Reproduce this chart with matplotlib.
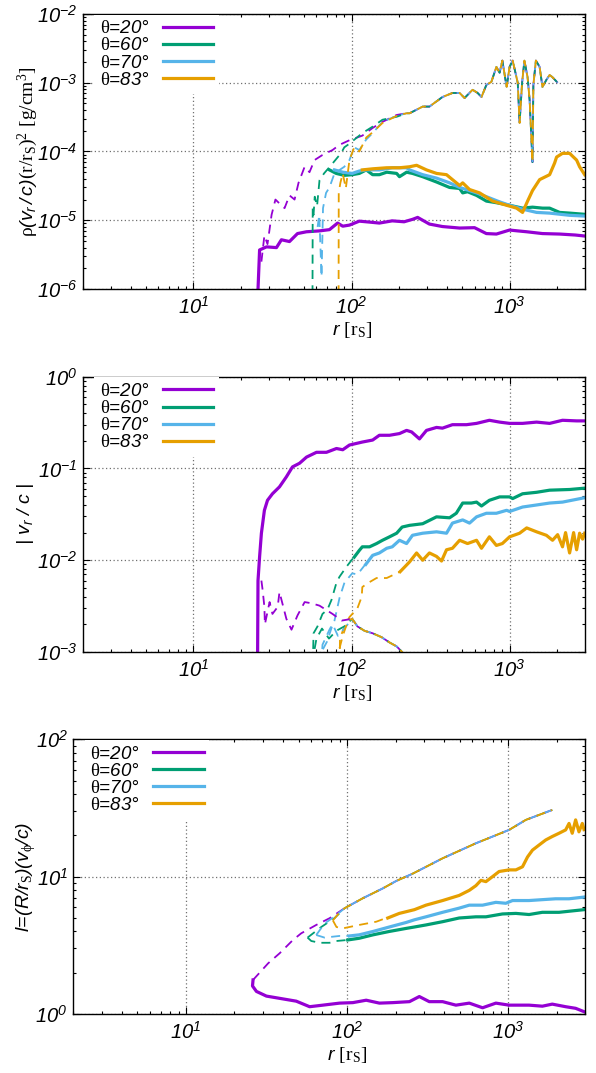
import numpy as np
import matplotlib
matplotlib.use('Agg')
import matplotlib.pyplot as plt
from matplotlib.ticker import LogLocator, FuncFormatter, NullFormatter

plt.rcParams['font.family'] = 'Liberation Sans'
plt.rcParams['mathtext.fontset'] = 'custom'
plt.rcParams['mathtext.rm'] = 'Liberation Sans:italic'
plt.rcParams['mathtext.it'] = 'Liberation Sans:italic'
plt.rcParams['mathtext.sf'] = 'Liberation Serif'

C20, C60, C70, C83 = '#9400d3', '#009e73', '#56b4e9', '#e69f00'
labels = [r'$\mathsf{\theta}$=20°', r'$\mathsf{\theta}$=60°',
          r'$\mathsf{\theta}$=70°', r'$\mathsf{\theta}$=83°']

# ---- top panel: rho (v_r/c) (r/r_S)^2, pairs of (r, value) ----
rho20 = [(25.3, 5e-7), (26.2, 3.7e-6), (29.0, 4.1e-6), (33.5, 4.0e-6), (36.0, 5.2e-6),
         (40.5, 4.9e-6), (45.5, 6.4e-6), (51.9, 6.8e-6), (62.7, 7.0e-6), (72.5, 7.3e-6),
         (81.6, 9.1e-6), (88, 8.2e-6), (97, 8.5e-6), (112, 9.7e-6), (130, 9.4e-6),
         (150, 9.1e-6), (181, 9.8e-6), (215, 9.5e-6), (243, 1.03e-5), (262, 1.1e-5),
         (311, 8.8e-6), (376, 8.1e-6), (483, 7.7e-6), (600, 7.8e-6), (713, 6.4e-6),
         (825, 6.3e-6), (1000, 7.2e-6), (1126, 7.0e-6), (1283, 6.8e-6), (1614, 6.4e-6),
         (2072, 6.3e-6), (2600, 6.1e-6), (2985, 5.9e-6)]
rho60 = [(72.5, 5.4e-5), (80, 4.8e-5), (90, 4.5e-5), (101, 4.6e-5), (112, 4.8e-5),
         (124, 5.4e-5), (136, 4.6e-5), (150, 4.6e-5), (167, 5.0e-5), (193, 4.8e-5),
         (201, 4.3e-5), (223, 5.0e-5), (243, 4.8e-5), (282, 4.3e-5), (345, 3.6e-5),
         (417, 3.0e-5), (483, 2.9e-5), (505, 2.5e-5), (542, 2.6e-5), (618, 2.3e-5),
         (713, 1.9e-5), (825, 1.8e-5), (1000, 1.65e-5), (1208, 1.5e-5), (1396, 1.55e-5),
         (1618, 1.5e-5), (1792, 1.5e-5), (2072, 1.3e-5), (2397, 1.27e-5), (2985, 1.22e-5)]
rho70 = [(78, 5.4e-5), (88, 5.0e-5), (101, 4.8e-5), (112, 5.2e-5), (124, 5.4e-5),
         (150, 5.4e-5), (181, 5.8e-5), (223, 5.8e-5), (233, 5.4e-5), (282, 4.6e-5),
         (345, 4.1e-5), (417, 3.5e-5), (483, 3.0e-5), (618, 2.5e-5), (713, 2.2e-5),
         (865, 1.85e-5), (1000, 1.65e-5), (1208, 1.45e-5), (1482, 1.3e-5), (1792, 1.27e-5),
         (2397, 1.18e-5), (2985, 1.15e-5)]
rho83 = [(117, 5.4e-5), (136, 5.6e-5), (167, 5.8e-5), (201, 5.8e-5), (233, 6.0e-5),
         (258, 6.3e-5), (298, 5.4e-5), (345, 4.8e-5), (399, 4.6e-5), (435, 3.9e-5),
         (483, 3.2e-5), (505, 3.5e-5), (558, 2.8e-5), (646, 2.5e-5), (780, 1.9e-5),
         (958, 1.65e-5), (1107, 1.5e-5), (1208, 1.3e-5), (1300, 1.9e-5), (1396, 2.7e-5),
         (1549, 3.9e-5), (1792, 4.6e-5), (1927, 6.8e-5), (1983, 8.3e-5), (2162, 9.4e-5),
         (2397, 9.4e-5), (2655, 7.5e-5), (2773, 6.0e-5), (2985, 4.6e-5)]
# inflow (dashed): individual heads, then a common tail
rho20_in = [(26.9, 2.5e-6), (28.1, 6e-6), (29.4, 4.5e-6), (31.2, 1.2e-5), (33.0, 2.0e-5),
            (35.5, 1.7e-5), (37.7, 1.5e-5), (40.5, 2.3e-5), (43.6, 2.0e-5), (46.2, 3.5e-5),
            (50.5, 6e-5), (54.2, 5e-5), (58.3, 7.5e-5), (65.5, 8.9e-5), (75.8, 1.05e-4),
            (83.9, 1.25e-4), (97.1, 1.46e-4), (117, 1.7e-4), (136, 2.2e-4), (157, 2.7e-4),
            (193, 3.4e-4)]
rho60_in = [(56.6, 5e-7), (56.8, 1.5e-5), (57.5, 1.2e-5), (58.5, 2.2e-5), (60.5, 1.6e-5),
            (62.7, 3.8e-5), (67, 4.8e-5), (75, 6.5e-5), (86, 9.5e-5), (90, 1.15e-4),
            (97, 1.3e-4), (117, 1.85e-4), (136, 2.3e-4), (157, 2.9e-4), (193, 3.2e-4)]
rho70_in = [(61, 8e-6), (62.5, 1.2e-5), (64.6, 1.5e-6), (66, 1.5e-5), (69, 2.5e-5),
            (72.5, 3.0e-5), (78, 4.8e-5), (90, 6.0e-5), (97, 7.5e-5), (104, 1.15e-4),
            (112, 1.05e-4), (124, 1.5e-4), (136, 1.85e-4), (157, 2.7e-4), (193, 3.3e-4)]
rho83_in = [(82.8, 5e-7), (83.0, 2.5e-5), (85, 3.5e-5), (88, 4.8e-5), (92, 2.9e-5),
            (97, 7.5e-5), (104, 1.15e-4), (112, 1.0e-4), (124, 1.6e-4), (136, 1.9e-4),
            (157, 2.6e-4), (193, 3.3e-4)]
rho_in_tail = [(223, 3.6e-4), (233, 3.6e-4), (282, 4.5e-4), (311, 4.5e-4), (376, 6.2e-4),
               (435, 7.1e-4), (483, 7.1e-4), (519, 6.0e-4), (583, 7.9e-4), (628, 7.1e-4),
               (664, 6.2e-4), (713, 9.3e-4), (767, 1.03e-3), (825, 1.7e-3), (865, 1.4e-3),
               (900, 2.1e-3), (958, 8.7e-4), (1000, 1.7e-3), (1046, 2.1e-3), (1126, 1.0e-3),
               (1157, 2.6e-4), (1200, 1.0e-3), (1241, 2.1e-3), (1300, 1.2e-3), (1339, 5.6e-4),
               (1396, 7e-5), (1414, 9.3e-4), (1467, 2.1e-3), (1549, 1.7e-3), (1614, 8.7e-4),
               (1709, 1.1e-3), (1792, 1.3e-3), (1870, 1.2e-3), (2014, 1.0e-3)]

# ---- middle panel: |v_r / c| ----
vr20 = [(25.4, 5e-4), (25.6, 6e-3), (26.2, 0.0109), (26.9, 0.0197), (28.1, 0.035),
        (29.4, 0.045), (31.6, 0.053), (35.0, 0.063), (38.7, 0.081), (42.3, 0.104),
        (46.9, 0.114), (51.9, 0.133), (60, 0.15), (69.4, 0.15), (80.3, 0.165), (88, 0.16),
        (97, 0.18), (117, 0.194), (136, 0.204), (150, 0.23), (174, 0.23), (201, 0.24),
        (223, 0.26), (240, 0.25), (269, 0.21), (298, 0.26), (345, 0.28), (376, 0.275),
        (435, 0.30), (534, 0.30), (618, 0.31), (745, 0.335), (865, 0.32), (1000, 0.31),
        (1208, 0.31), (1482, 0.32), (1792, 0.31), (2162, 0.335), (2655, 0.33), (2985, 0.33)]
vr60 = [(104, 0.0108), (112, 0.0128), (117, 0.014), (130, 0.014), (144, 0.0152),
        (157, 0.0165), (174, 0.018), (193, 0.0197), (209, 0.023), (233, 0.024), (282, 0.025),
        (345, 0.0297), (417, 0.029), (460, 0.0325), (505, 0.042), (573, 0.042), (618, 0.043),
        (664, 0.039), (745, 0.045), (865, 0.049), (1000, 0.049), (1046, 0.047),
        (1208, 0.053), (1482, 0.055), (1792, 0.058), (2397, 0.059), (2985, 0.061)]
vr70 = [(123, 9.0e-3), (136, 0.0113), (150, 0.012), (167, 0.0135), (181, 0.014),
        (201, 0.0165), (223, 0.0152), (243, 0.0187), (282, 0.0197), (345, 0.0204),
        (399, 0.0197), (435, 0.0254), (505, 0.0275), (558, 0.0254), (618, 0.0297),
        (713, 0.0325), (825, 0.0325), (958, 0.035), (1000, 0.034), (1208, 0.038),
        (1482, 0.040), (1792, 0.042), (2162, 0.043), (2985, 0.048)]
vr83 = [(203, 7.5e-3), (233, 9.6e-3), (258, 0.012), (282, 0.010), (311, 0.012),
        (345, 0.011), (371, 9.8e-3), (399, 0.013), (435, 0.0135), (483, 0.0165),
        (542, 0.0152), (618, 0.0165), (664, 0.0135), (745, 0.018), (825, 0.0145),
        (900, 0.0152), (1000, 0.018), (1157, 0.0197), (1283, 0.0225), (1482, 0.0204),
        (1709, 0.0187), (1870, 0.0165), (2014, 0.019), (2162, 0.014), (2260, 0.020),
        (2397, 0.012), (2541, 0.020), (2655, 0.013), (2773, 0.0197), (2897, 0.017),
        (2985, 0.0197)]
# dashed parts leading into the outflow branch
vr60_dash = [(56.6, 5e-4), (57.5, 1.6e-3), (60.9, 1.9e-3), (65.5, 2.6e-3), (70.4, 2.9e-3),
             (74.7, 3.7e-3), (80.3, 5.7e-3), (83.9, 6.6e-3), (92.9, 8.5e-3), (100, 0.010),
             (104, 0.0108)]
vr70_dash = [(63.7, 5e-4), (65.5, 1.2e-3), (72.5, 1.75e-3), (78, 2.2e-3), (84, 3.9e-3),
             (90.2, 5.7e-3), (101, 7.2e-3), (109, 7.0e-3), (121, 8.8e-3), (123, 9.0e-3)]
vr83_dash = [(84, 5e-4), (84.5, 1.4e-3), (88, 1.7e-3), (97, 2.4e-3), (109, 3.0e-3),
             (116, 4.0e-3), (117, 5.1e-3), (126, 5.6e-3), (144, 6.4e-3), (167, 6.4e-3),
             (193, 7.2e-3), (203, 7.5e-3)]
# inflow (dashed)
vr20_in = [(26.9, 6e-3), (27.4, 4.7e-3), (28.1, 3.1e-3), (28.3, 2.0e-3), (30.3, 3.5e-3),
           (31.6, 2.6e-3), (34.1, 3.1e-3), (35.0, 4.5e-3), (38.7, 2.3e-3), (41.7, 1.75e-3),
           (45.5, 2.5e-3), (50.5, 3.5e-3), (55.6, 3.4e-3), (62.7, 3.2e-3), (75.8, 2.6e-3),
           (86.6, 2.2e-3)]
vr60_in = [(58, 5e-4), (58.5, 1.1e-3), (60, 1.4e-3), (65, 1.8e-3), (72, 1.4e-3),
           (80, 1.7e-3), (90, 1.9e-3)]
vr70_in = [(64, 5e-4), (64.5, 1.0e-3), (70, 1.3e-3), (76, 2.0e-3), (82, 1.5e-3),
           (90, 1.8e-3)]
vr83_in = [(84, 1.1e-3), (88, 1.5e-3), (95, 2.2e-3)]
vr_in_tail = [(101, 2.3e-3), (109, 1.9e-3), (121, 1.7e-3), (136, 1.6e-3), (155, 1.45e-3),
              (174, 1.27e-3), (193, 1.15e-3), (209, 1.0e-3), (220, 8e-4)]

# ---- bottom panel: l = (R/r_S)(v_phi/c) ----
l20 = [(26.1, 1.77), (25.9, 1.6), (27.4, 1.46), (31.6, 1.35), (38.2, 1.3), (48.4, 1.24),
       (58.6, 1.13), (70.8, 1.16), (89.9, 1.2), (108.7, 1.21), (131.5, 1.26), (158.9, 1.2),
       (192, 1.21), (244, 1.23), (281, 1.34), (324, 1.23), (392, 1.23), (474, 1.16),
       (574, 1.2), (694, 1.11), (839, 1.2), (1014, 1.16), (1349, 1.16), (1631, 1.14),
       (1879, 1.18), (2276, 1.13), (2624, 1.1), (2958, 1.04)]
l60 = [(101, 3.46), (119, 3.56), (145, 3.77), (183, 3.99), (233, 4.2), (262, 4.3),
       (309, 4.45), (392, 4.7), (497, 5.0), (631, 5.1), (728, 5.1), (922, 5.35),
       (1117, 5.4), (1349, 5.3), (1631, 5.5), (2070, 5.5), (2958, 5.75)]
l70 = [(103.5, 3.7), (119, 3.77), (145, 3.99), (183, 4.3), (233, 4.64), (262, 4.85),
       (309, 5.1), (392, 5.5), (497, 5.9), (574, 6.2), (694, 6.2), (839, 6.5), (968, 6.4),
       (1065, 6.7), (1349, 6.7), (1631, 6.8), (1972, 6.9), (2388, 6.9), (2958, 7.1)]
l83 = [(179, 5.0), (211, 5.4), (262, 5.75), (309, 6.2), (392, 6.7), (497, 7.3),
       (574, 7.95), (631, 8.6), (678, 9.4), (728, 9.2), (800, 10.0), (879, 10.9),
       (1014, 11.2), (1117, 11.2), (1228, 11.8), (1319, 13.9), (1416, 15.6), (1557, 17.0),
       (1712, 18.5), (1879, 19.6), (2070, 20.7), (2276, 21.9), (2388, 24.4), (2500, 20.7),
       (2624, 25.9), (2752, 21.2), (2887, 24.4), (2958, 22.0)]
l60_dash = [(56.9, 3.6), (60, 3.4), (67.6, 3.3), (77.9, 3.3), (86, 3.4), (101, 3.46)]
l70_dash = [(64.4, 3.76), (72.5, 3.6), (89.7, 3.7), (103.5, 3.7)]
l83_dash = [(81.7, 4.8), (86, 4.3), (94, 4.2), (103.5, 4.3), (119, 4.45), (152, 4.7),
            (175, 5.0), (179, 5.0)]
l20_in = [(26.1, 1.77), (32.4, 2.34), (38.2, 2.77), (46.2, 3.46), (52, 3.87), (64.4, 4.45),
          (77.9, 4.98)]
l60_in = [(56.9, 3.6), (69.2, 4.3), (83.8, 5.0)]
l70_in = [(64.4, 3.76), (72.5, 4.55), (85, 5.2)]
l83_in = [(81.7, 4.8), (90, 5.5)]
l_in_tail = [(96.6, 5.89), (125, 6.95), (167, 8.22), (202, 9.3), (255, 10.5), (392, 13.6),
             (631, 17.5), (1014, 21.9), (1288, 25.9), (1879, 30.6)]


def draw(ax, pts, color, dashed=False, label=None):
    r, v = np.array(pts).T
    if dashed:
        return ax.plot(r, v, color=color, lw=1.3, dashes=(5, 3.5))[0]
    return ax.plot(r, v, color=color, lw=2.3, label=label)[0]


def decade(v, pos):
    return r'$10^{%d}$' % int(round(np.log10(v)))


def setup(ax, ylim, ylabel, ylab_x):
    ax.set_xscale('log')
    ax.set_yscale('log')
    ax.set_xlim(2, 3000)
    ax.set_ylim(*ylim)
    for a in (ax.xaxis, ax.yaxis):
        a.set_major_locator(LogLocator(10, numticks=12))
        a.set_minor_locator(LogLocator(10, subs=np.arange(2, 10), numticks=12))
        a.set_major_formatter(FuncFormatter(decade))
        a.set_minor_formatter(NullFormatter())
    ax.tick_params(which='both', direction='in', top=True, right=True, width=0.8,
                   labelsize=14.5)
    ax.tick_params(which='major', length=5)
    ax.tick_params(which='minor', length=2.5)
    ax.tick_params(axis='y', pad=4)
    ax.tick_params(axis='x', pad=5)
    ax.grid(which='major', color='#707070', lw=0.9, dashes=(1, 2))
    for s in ax.spines.values():
        s.set_linewidth(1.0)
    ax.set_ylabel(ylabel, fontsize=14, va='center')
    ax.yaxis.set_label_coords(ylab_x, 0.5)
    ax.set_xlabel(r'$r\ \mathsf{[r_S]}$', fontsize=14, va='center')
    ax.xaxis.set_label_coords(0.535, -0.15)


def legend(ax, handles):
    ax.legend(handles, labels, loc='upper left', bbox_to_anchor=(0.022, 0.998),
              markerfirst=False, frameon=True, fancybox=False, edgecolor='none',
              facecolor='white', framealpha=1,
              prop={'family': 'Liberation Sans', 'style': 'italic', 'size': 13.5},
              handlelength=2.7, handletextpad=0.7, labelspacing=0.0, borderpad=0.3,
              borderaxespad=0)


fig = plt.figure(figsize=(5.96, 10.73), dpi=100)
W, H = 596.0, 1073.0
ax1 = fig.add_axes([83 / W, 1 - 289 / H, 502 / W, 275 / H])
ax2 = fig.add_axes([83 / W, 1 - 652 / H, 502 / W, 275.3 / H])
ax3 = fig.add_axes([73.3 / W, 1 - 1014 / H, 511.7 / W, 274.7 / H])

colors = [C20, C60, C70, C83]

# top
h = [draw(ax1, s, c, label=lb) for s, c, lb in zip([rho20, rho60, rho70, rho83], colors, labels)]
for head, c in zip([rho20_in, rho60_in, rho70_in, rho83_in], colors):
    draw(ax1, head + rho_in_tail, c, dashed=True)
setup(ax1, (1e-6, 1e-2),
      r'$\mathsf{\rho}(v_r\,/\,c)\mathsf{(r/r_S)^2\ [g/cm^3]}$', -0.11)
legend(ax1, h)

# middle
h = [draw(ax2, s, c, label=lb) for s, c, lb in zip([vr20, vr60, vr70, vr83], colors, labels)]
for seg, c in zip([vr60_dash, vr70_dash, vr83_dash], colors[1:]):
    draw(ax2, seg, c, dashed=True)
for head, c in zip([vr20_in, vr60_in, vr70_in, vr83_in], colors):
    draw(ax2, head + vr_in_tail, c, dashed=True)
setup(ax2, (1e-3, 1), r'$|\ v_r\ /\ c\ |$', -0.115)
legend(ax2, h)

# bottom
h = [draw(ax3, s, c, label=lb) for s, c, lb in zip([l20, l60, l70, l83], colors, labels)]
for seg, c in zip([l60_dash, l70_dash, l83_dash], colors[1:]):
    draw(ax3, seg, c, dashed=True)
for head, c in zip([l20_in, l60_in, l70_in, l83_in], colors):
    draw(ax3, head + l_in_tail, c, dashed=True)
setup(ax3, (1, 100), r'$l\!=\!(R/r_{\mathsf{S}})(v_{\mathsf{\phi}}/c)$', -0.092)
legend(ax3, h)

fig.savefig('out.png', dpi=100)
